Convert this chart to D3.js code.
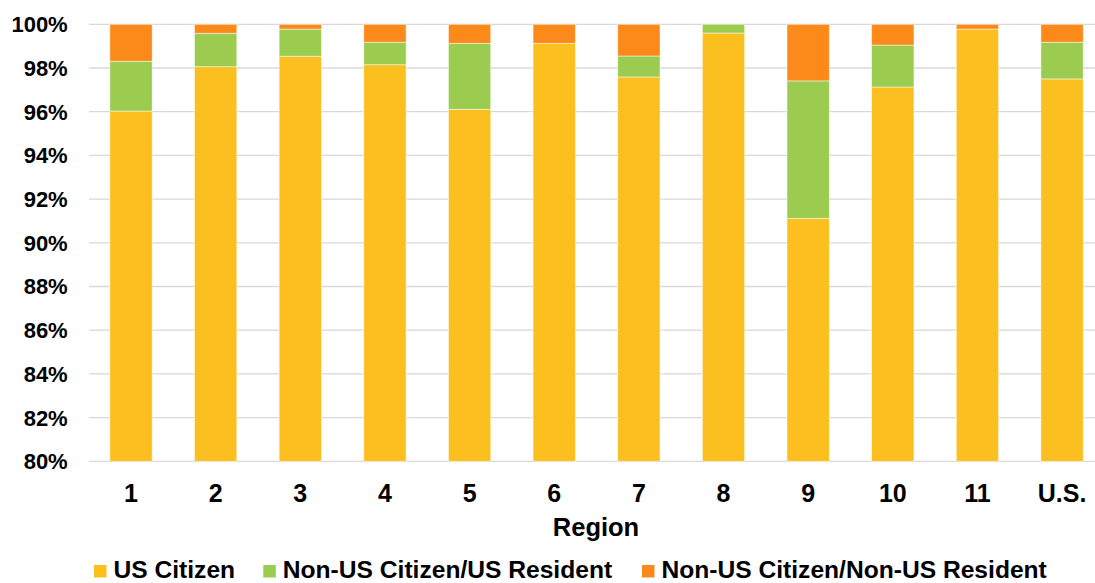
<!DOCTYPE html>
<html>
<head>
<meta charset="utf-8">
<script src="https://cdn.jsdelivr.net/npm/d3@7"></script>
<style>
  html, body { margin: 0; padding: 0; background: #fff; }
  svg { display: block; font-family: "Liberation Sans", Arial, sans-serif; font-weight: bold; }
</style>
</head>
<body>
<svg id="chart" width="1095" height="583"></svg>
<script>
const regions = ["1","2","3","4","5","6","7","8","9","10","11","U.S."];
const usCitizen      = [96.03, 98.06, 98.54, 98.15, 96.11, 99.13, 97.59, 99.60, 91.12, 97.13, 99.78, 97.50];
const nonUsResident  = [2.28, 1.53, 1.24, 1.03, 3.02, 0.00, 0.96, 0.40, 6.29, 1.92, 0.00, 1.68];
const nonUsNonRes    = [1.69, 0.41, 0.22, 0.82, 0.87, 0.87, 1.45, 0.00, 2.59, 0.95, 0.22, 0.82];
const seriesNames = ["US Citizen", "Non-US Citizen/US Resident", "Non-US Citizen/Non-US Resident"];
const seriesColors = ["#FBC01F", "#9BCC4F", "#FC8A1A"];
const yTicks = [80, 82, 84, 86, 88, 90, 92, 94, 96, 98, 100];

const svg = d3.select("#chart");
const x = d3.scaleBand().domain(regions).range([88.7, 1104.4]).paddingInner(0.5).paddingOuter(0.25);
const y = d3.scaleLinear().domain([80, 100]).range([461.3, 24.3]);

// gridlines
svg.append("g").selectAll("line").data(yTicks).join("line")
  .attr("x1", 89).attr("x2", 1110)
  .attr("y1", d => y(d)).attr("y2", d => y(d))
  .attr("stroke", "#D9D9D9").attr("stroke-width", 1.3);

// stacked data
const table = regions.map((r, i) => ({ region: r, s0: usCitizen[i], s1: nonUsResident[i], s2: nonUsNonRes[i] }));
const stack = d3.stack().keys(["s0", "s1", "s2"]);
const stacked = stack(table);

svg.append("g").selectAll("g").data(stacked).join("g")
  .attr("fill", (d, i) => seriesColors[i])
  .selectAll("rect").data(d => d.filter(p => p[1] - p[0] > 0)).join("rect")
  .attr("x", d => x(d.data.region))
  .attr("width", x.bandwidth())
  .attr("y", d => y(Math.min(100, d[1])))
  .attr("height", d => y(Math.max(80, d[0])) - y(Math.min(100, d[1])))
  .attr("stroke", "#ffffff").attr("stroke-opacity", 0.6).attr("stroke-width", 0.8);

// y axis labels
svg.append("g").selectAll("text").data(yTicks).join("text")
  .attr("x", 67.7).attr("y", d => y(d)).attr("dy", "0.36em")
  .attr("text-anchor", "end").attr("font-size", 22).attr("fill", "#000")
  .text(d => d + "%");

// x axis labels
svg.append("g").selectAll("text").data(regions).join("text")
  .attr("x", d => x(d) + x.bandwidth() / 2).attr("y", 502)
  .attr("text-anchor", "middle").attr("font-size", 25).attr("fill", "#000")
  .text(d => d);

// axis title
svg.append("text").attr("x", 596).attr("y", 536).attr("text-anchor", "middle")
  .attr("font-size", 25.5).attr("fill", "#000").text("Region");

// legend
const legendX = [94, 263.3, 642];
const lg = svg.append("g").selectAll("g").data(seriesNames).join("g")
  .attr("transform", (d, i) => `translate(${legendX[i]},0)`);
lg.append("rect").attr("x", 0).attr("y", 565).attr("width", 12.5).attr("height", 12.5)
  .attr("fill", (d, i) => seriesColors[i]);
lg.append("text").attr("x", 19.5).attr("y", 577.5).attr("font-size", 24.6).attr("fill", "#000").text(d => d);
</script>
</body>
</html>
